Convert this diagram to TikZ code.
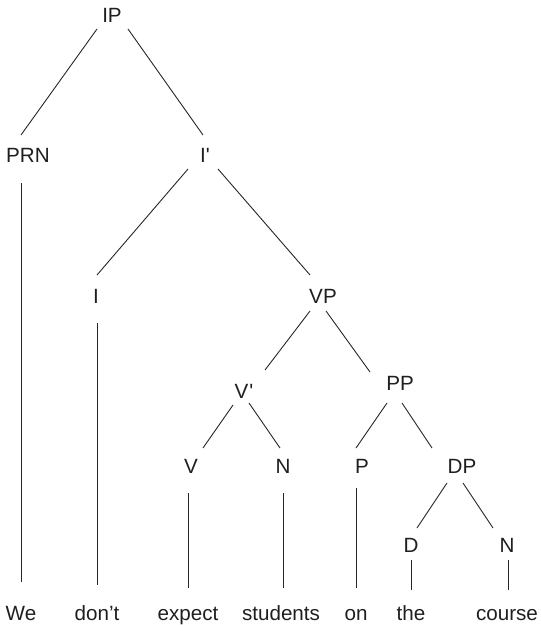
\documentclass[tikz,border=0pt]{standalone}
\usepackage{fontspec}
\setmainfont{Liberation Sans}
\begin{document}
\begin{tikzpicture}[x=1bp,y=-1bp,
  lbl/.style={anchor=base,inner sep=0pt,text=black!88,font=\fontsize{20.7}{24}\selectfont},
  edge/.style={draw=black!85,line width=0.9bp}]
\useasboundingbox (0,0) rectangle (541,625);
% categories
\node[lbl] (IP) at (112,23) {IP};
\node[lbl] (PRN) at (28,163) {PRN};
\node[lbl] (Ibar) at (205,163) {I\textquotesingle};
\node[lbl] (I) at (96,303) {I};
\node[lbl] (VP) at (323,303) {VP};
\node[lbl] (Vbar) at (244,398) {V\kern1bp\textquotesingle};
\node[lbl] (PP) at (400,390) {PP};
\node[lbl] (V) at (191,473) {V};
\node[lbl] (N1) at (283,473) {N};
\node[lbl] (P) at (362,473) {P};
\node[lbl] (DP) at (462,473) {DP};
\node[lbl] (D) at (411,552) {D};
\node[lbl] (N2) at (507,552) {N};
% words
\node[lbl] (we) at (21,620) {We};
\node[lbl] (dont) at (97,620) {don’t};
\node[lbl] (expect) at (188,620) {expect};
\node[lbl] (students) at (281,620) {students};
\node[lbl] (on) at (356,620) {on};
\node[lbl] (the) at (411,620) {the};
\node[lbl] (course) at (507,620) {course};
% branches
\draw[edge] ([shift={(-15,6)}]IP.base) -- ([shift={(-7,-28)}]PRN.base);
\draw[edge] ([shift={(16,6)}]IP.base) -- ([shift={(-2,-28)}]Ibar.base);
\draw[edge] ([shift={(-7,20)}]PRN.base) -- ([shift={(0,-38)}]we.base);
\draw[edge] ([shift={(-17,6)}]Ibar.base) -- ([shift={(1,-28)}]I.base);
\draw[edge] ([shift={(13,6)}]Ibar.base) -- ([shift={(-13,-28)}]VP.base);
\draw[edge] ([shift={(1,20)}]I.base) -- ([shift={(0,-35)}]dont.base);
\draw[edge] ([shift={(-13,8)}]VP.base) -- ([shift={(21,-28)}]Vbar.base);
\draw[edge] ([shift={(3,8)}]VP.base) -- ([shift={(-30,-18)}]PP.base);
\draw[edge] ([shift={(-11,7)}]Vbar.base) -- ([shift={(12,-25)}]V.base);
\draw[edge] ([shift={(5,5)}]Vbar.base) -- ([shift={(-3,-25)}]N1.base);
\draw[edge] ([shift={(-13,13)}]PP.base) -- ([shift={(-6,-25)}]P.base);
\draw[edge] ([shift={(2,13)}]PP.base) -- ([shift={(-30,-25)}]DP.base);
\draw[edge] ([shift={(-3,20)}]V.base) -- ([shift={(0,-32)}]expect.base);
\draw[edge] ([shift={(0,20)}]N1.base) -- ([shift={(2,-32)}]students.base);
\draw[edge] ([shift={(-6,15)}]P.base) -- ([shift={(0,-32)}]on.base);
\draw[edge] ([shift={(-15,10)}]DP.base) -- ([shift={(6,-24)}]D.base);
\draw[edge] ([shift={(1,10)}]DP.base) -- ([shift={(-14,-24)}]N2.base);
\draw[edge] ([shift={(0,8)}]D.base) -- ([shift={(0,-30)}]the.base);
\draw[edge] ([shift={(1,8)}]N2.base) -- ([shift={(1,-30)}]course.base);
\end{tikzpicture}
\end{document}
